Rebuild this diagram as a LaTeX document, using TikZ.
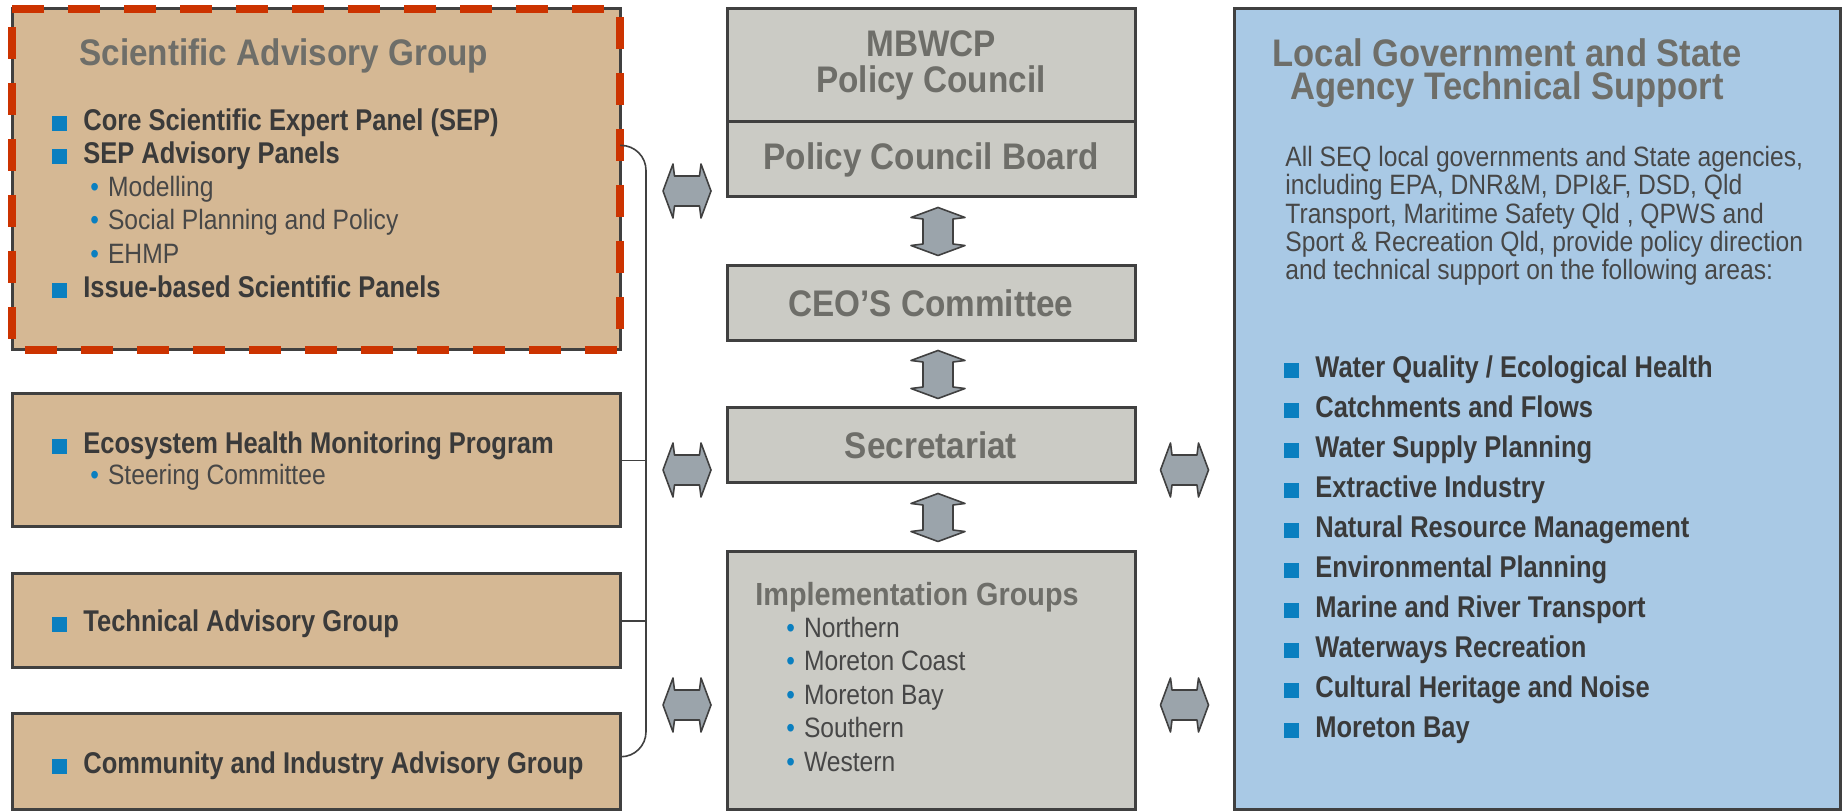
\documentclass[tikz,border=0pt]{standalone}
\usepackage{fontspec}
\setmainfont{Liberation Sans}
\newfontfamily\headfont{Liberation Sans}[FakeStretch=0.9]
\newfontfamily\itemfont{Liberation Sans}[FakeStretch=0.85]
\newfontfamily\plainfont{Liberation Sans}[FakeStretch=0.88]
\usetikzlibrary{positioning,calc}

\definecolor{edgegray}{HTML}{404040}
\definecolor{headgray}{HTML}{6E6E69}
\definecolor{inkgray}{HTML}{3A3A3A}
\definecolor{softink}{HTML}{474747}
\definecolor{bulletblue}{HTML}{0A7FC0}
\definecolor{tanfill}{HTML}{D5B894}
\definecolor{stonefill}{HTML}{CBCBC5}
\definecolor{skyfill}{HTML}{A9C9E5}
\definecolor{dashred}{HTML}{CC3300}
\definecolor{arrowfill}{HTML}{9BA4AB}

\newcommand{\sqmark}{{\color{bulletblue}\rule{7.5pt}{7.5pt}}\hspace{8pt}}
\newcommand{\dotmark}{{\color{bulletblue}\textbullet}\hspace{4.5pt}}

\tikzset{
  panel/.style={draw=edgegray, line width=1.5pt, inner sep=0pt, outer sep=0pt},
  tanbox/.style={panel, fill=tanfill, minimum width=304pt},
  stonebox/.style={panel, fill=stonefill, minimum width=204pt, text=headgray,
    font=\headfont\bfseries\fontsize{18.5pt}{18pt}\selectfont, align=center},
  heading/.style={inner sep=0pt, text=headgray, align=center,
    font=\headfont\bfseries\fontsize{18.5pt}{16.5pt}\selectfont},
  item/.style={anchor=west, inner sep=0pt, text=inkgray, text height=10.7pt, text depth=0pt,
    font=\itemfont\bfseries\fontsize{15pt}{18pt}\selectfont},
  subitem/.style={anchor=west, inner sep=0pt, text=softink, text height=10pt, text depth=0pt,
    font=\plainfont\fontsize{14pt}{16pt}\selectfont},
  busline/.style={draw=edgegray, line width=0.8pt},
  twoway/.pic={
    \filldraw[fill=arrowfill, draw=edgegray, line width=0.8pt, line join=round]
      (-24,0) -- (-14,-27) -- (-12.5,-15) -- (12.5,-15) -- (14,-27) -- (24,0)
      -- (14,27) -- (12.5,15) -- (-12.5,15) -- (-14,27) -- cycle;
  }
}

\begin{document}
\begin{tikzpicture}[x=0.5pt, y=-0.5pt]
\useasboundingbox (0,0) rectangle (1844,812);

% advisory groups
\node[tanbox, minimum height=170.5pt] (sag) at (316,179.5) {};
\node[tanbox, minimum height=66.5pt] (ehmp) at (316,460.5) {};
\node[tanbox, minimum height=47pt] (tag) at (316,621) {};
\node[tanbox, minimum height=47.5pt] (ciag) at (316,761.5) {};
\draw[dashred, line width=4pt, dash pattern=on 16pt off 12pt]
  (sag.north west) -- (sag.north east) -- (sag.south east) -- (sag.south west) -- cycle;

\node[heading, anchor=west, text height=13.2pt, text depth=0pt] (sagtitle) at (79,52) {Scientific Advisory Group};
\node[item] (sep) at (52,120) {\sqmark Core Scientific Expert Panel (SEP)};
\node[item] (sepap) at (52,153) {\sqmark SEP Advisory Panels};
\foreach \panel [count=\i] in {Modelling, Social Planning and Policy, EHMP}
  \node[subitem] (panel\i) at (90,153+33.5*\i) {\dotmark\panel};
\node[item] (issue) at (52,287) {\sqmark Issue-based Scientific Panels};

\node[item] (ehmptext) at (52,443) {\sqmark Ecosystem Health Monitoring Program};
\node[subitem] (steer) at (90,475) {\dotmark Steering Committee};
\node[item] (tagtext) at (52,621) {\sqmark Technical Advisory Group};
\node[item] (ciagtext) at (52,763) {\sqmark Community and Industry Advisory Group};

% bracket joining the groups
\coordinate (bus) at (646,0);
\coordinate (sagtap) at ($(sag.north east)!0.4!(sag.south east)$);
\coordinate (ciagtap) at ($(ciag.north east)!0.45!(ciag.south east)$);
\draw[busline, rounded corners=12.5pt] (sagtap) -| (bus |- ciagtap) -- (ciagtap);
\draw[busline] (ehmp.east) -- (ehmp.east -| bus);
\draw[busline] (tag.east) -- (tag.east -| bus);

% policy council column
\node[stonebox, minimum height=56.5pt] (mbwcp) at (931,65.5) {MBWCP\\Policy Council};
\node[stonebox, minimum height=37.5pt, below=0pt of mbwcp] (pcb) {Policy Council Board};
\node[stonebox, minimum height=37.5pt, below=34.5pt of pcb] (ceo) {CEO’S Committee};
\node[stonebox, minimum height=37.5pt, below=33.5pt of ceo] (sec) {Secretariat};
\node[stonebox, minimum height=128.5pt, below=34.5pt of sec] (impl) {};

\node[heading, anchor=west, text height=11.5pt, text depth=0pt,
  font=\headfont\bfseries\fontsize{16pt}{18pt}\selectfont] (impltitle) at (755,594) {Implementation Groups};
\foreach \grp [count=\i] in {Northern, Moreton Coast, Moreton Bay, Southern, Western}
  \node[subitem] (grp\i) at (786,594+33.5*\i) {\dotmark\grp};

% technical support
\node[panel, fill=skyfill, minimum width=303pt, minimum height=400pt] (lgsa) at (1537,409) {};
\node[heading, text height=13.6pt, text depth=0pt, font=\headfont\bfseries\fontsize{19.2pt}{18pt}\selectfont]
  (lgsatitle) at (1507,53) {Local Government and State};
\node[heading, text height=13.6pt, text depth=0pt, font=\headfont\bfseries\fontsize{19.2pt}{18pt}\selectfont]
  (lgsasub) at (1507,86) {Agency Technical Support};
\node[anchor=north west, inner sep=0pt, align=left, text=softink,
  font=\plainfont\fontsize{14pt}{14.1pt}\selectfont] (lgsatext) at (1285,146)
  {All SEQ local governments and State agencies,\\
   including EPA, DNR\&M, DPI\&F, DSD, Qld\\
   Transport, Maritime Safety Qld , QPWS and\\
   Sport \& Recreation Qld, provide policy direction\\
   and technical support on the following areas:};
\foreach \topic [count=\i] in {Water Quality / Ecological Health, Catchments and Flows,
    Water Supply Planning, Extractive Industry, Natural Resource Management,
    Environmental Planning, Marine and River Transport, Waterways Recreation,
    Cultural Heritage and Noise, Moreton Bay}
  \node[item] (topic\i) at (1284,327+40*\i) {\sqmark\topic};

% two-way links
\pic at ($(pcb.south west)+(-40,-6)$) {twoway};
\pic at ($(sec.south west)+(-40,-13)$) {twoway};
\pic at ($(impl.west)+(-40,24.5)$) {twoway};
\pic at ($(sec.south east)+(49.5,-13)$) {twoway};
\pic at ($(impl.east)+(49.5,24.5)$) {twoway};
\foreach \a/\b in {pcb/ceo, ceo/sec, sec/impl}
  \pic[rotate=90] at ($($(\a.south)!0.5!(\b.north)$)+(7,0)$) {twoway};
\end{tikzpicture}
\end{document}
